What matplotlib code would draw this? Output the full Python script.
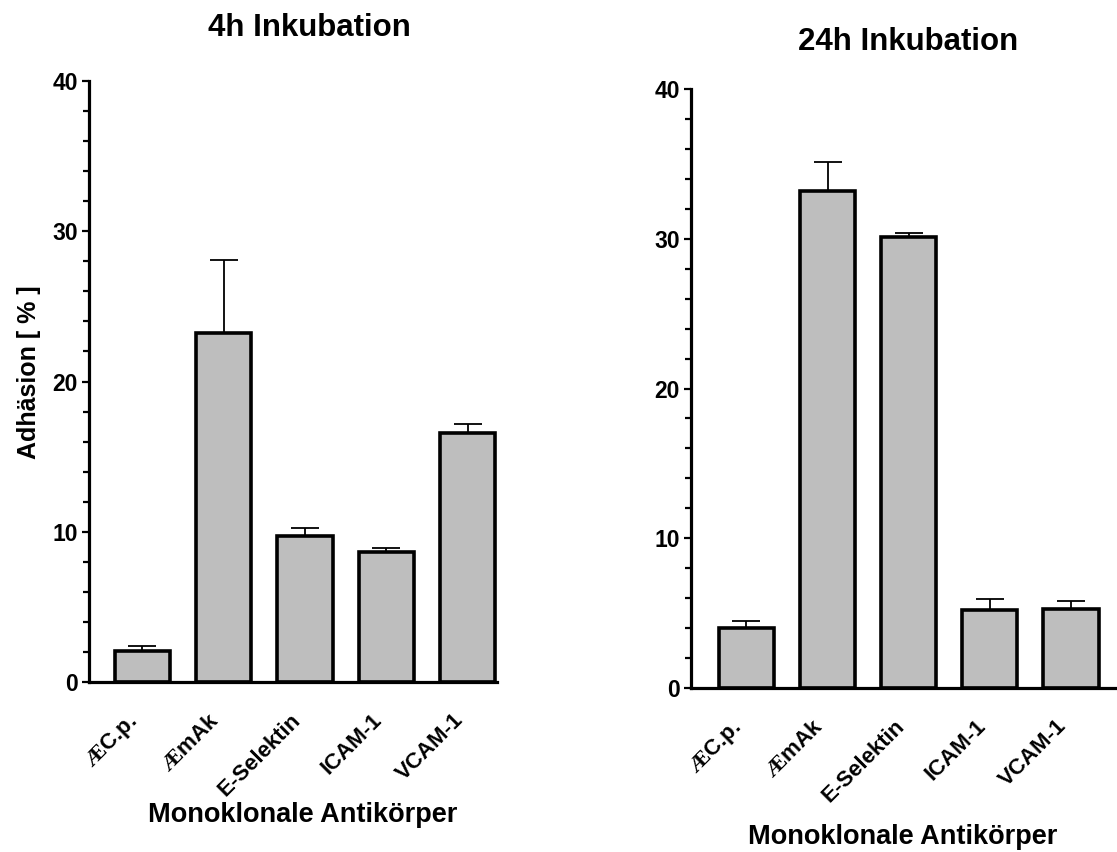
import matplotlib
matplotlib.use("Agg")
import matplotlib.pyplot as plt
from matplotlib.ticker import MultipleLocator

plt.rcParams['font.family'] = ['Liberation Sans', 'DejaVu Sans']
plt.rcParams['font.weight'] = 'bold'
plt.rcParams['mathtext.fontset'] = 'custom'
plt.rcParams['mathtext.rm'] = 'Liberation Serif'

# Data
categories = [r"$\mathrm{Æ}$C.p.", r"$\mathrm{Æ}$mAk", "E-Selektin", "ICAM-1", "VCAM-1"]
adh_4h = [2.05, 23.2, 9.7, 8.65, 16.6]
err_4h = [0.35, 4.9, 0.55, 0.3, 0.55]
adh_24h = [4.0, 33.2, 30.1, 5.2, 5.3]
err_24h = [0.45, 1.9, 0.3, 0.75, 0.5]
y_ticks = [0, 10, 20, 30, 40]

BAR_COLOR = '#bebebe'
LW = 2.3

fig = plt.figure(figsize=(11.17, 8.52), dpi=100)
ax1 = fig.add_axes([0.0797, 0.1995, 0.3653, 0.7054])
ax2 = fig.add_axes([0.6186, 0.1925, 0.3814, 0.703])


def draw_panel(ax, values, errors, xlim):
    x = list(range(len(values)))
    ax.errorbar(x, values, yerr=[[0] * len(errors), errors], fmt='none',
                ecolor='black', elinewidth=1.3, capsize=10, capthick=1.3,
                zorder=2)
    ax.bar(x, values, width=0.68, color=BAR_COLOR, edgecolor='black',
           linewidth=2.6, zorder=3)
    ax.set_xlim(*xlim)
    ax.set_ylim(0, 40)
    ax.set_yticks(y_ticks)
    ax.yaxis.set_minor_locator(MultipleLocator(2))
    ax.set_xticks(x)
    ax.set_xticklabels(categories, rotation=45, ha='right', fontsize=16,
                       fontweight='bold')
    ax.tick_params(axis='x', length=0, pad=20)
    ax.tick_params(axis='y', which='major', length=5, width=1.6,
                   labelsize=16.5, pad=3)
    ax.tick_params(axis='y', which='minor', length=4, width=1.6)
    for side in ('top', 'right'):
        ax.spines[side].set_visible(False)
    for side in ('left', 'bottom'):
        ax.spines[side].set_linewidth(LW)
        ax.spines[side].set_zorder(4)


draw_panel(ax1, adh_4h, err_4h, (-0.658, 4.363))
draw_panel(ax2, adh_24h, err_24h, (-0.684, 4.567))

fig.text(0.277, 0.967, "4h Inkubation", ha='center', va='center',
         fontsize=22.5, fontweight='bold')
fig.text(0.813, 0.951, "24h Inkubation", ha='center', va='center',
         fontsize=22.5, fontweight='bold')
fig.text(0.271, 1 - 815 / 852, "Monoklonale Antikörper", ha='center',
         va='center', fontsize=19.5, fontweight='bold')
fig.text(0.808, 1 - 837 / 852, "Monoklonale Antikörper", ha='center',
         va='center', fontsize=19.5, fontweight='bold')
fig.text(0.026, 0.563, "Adhäsion [ % ]", ha='center', va='center',
         rotation=90, fontsize=18, fontweight='bold')

fig.savefig("out.png", dpi=100)
